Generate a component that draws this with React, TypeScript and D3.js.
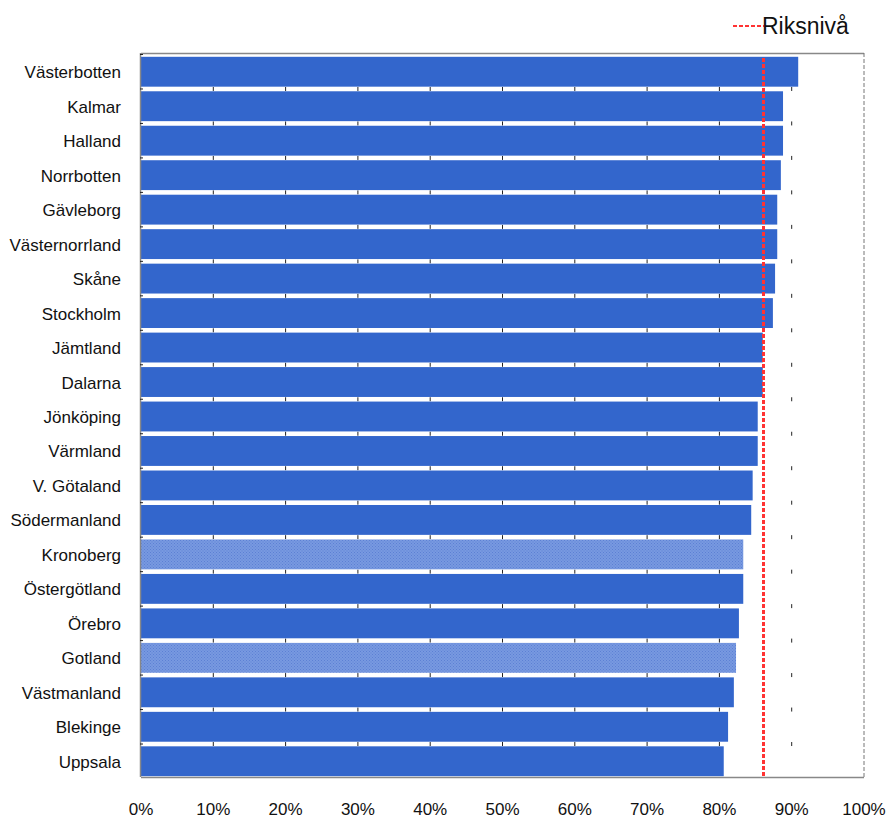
import React from "react";
import * as d3 from "d3";

const categories = [
  "Västerbotten", "Kalmar", "Halland", "Norrbotten", "Gävleborg", "Västernorrland",
  "Skåne", "Stockholm", "Jämtland", "Dalarna", "Jönköping", "Värmland",
  "V. Götaland", "Södermanland", "Kronoberg", "Östergötland", "Örebro", "Gotland",
  "Västmanland", "Blekinge", "Uppsala",
];
const values = [
  0.909, 0.888, 0.888, 0.885, 0.880, 0.880, 0.877, 0.874, 0.860, 0.860, 0.853,
  0.853, 0.846, 0.844, 0.833, 0.833, 0.827, 0.823, 0.820, 0.812, 0.806,
];
const hatched = ["Kronoberg", "Gotland"];
const riksniva = 0.861;
const xTicks = [0, 0.1, 0.2, 0.3, 0.4, 0.5, 0.6, 0.7, 0.8, 0.9, 1.0];
const legendLabel = "Riksnivå";

export default function App() {
  const W = 888, H = 818;
  const left = 141, right = 864, top = 53, bottom = 777;
  const x = d3.scaleLinear().domain([0, 1]).range([left, right]);
  const y = d3.scaleBand<string>().domain(categories).range([top, bottom]).paddingInner(0).paddingOuter(0);
  const bw = y.bandwidth();
  const fmt = d3.format(".0%");
  const font = "Arial, 'Liberation Sans', sans-serif";

  return (
    <svg width={W} height={H} style={{ position: "absolute", left: 0, top: 0, background: "#fff" }}>
      <defs>
        <pattern id="hatch" width="3" height="3" patternUnits="userSpaceOnUse">
          <rect width="3" height="3" fill="#7899e0" />
          <rect x="0" y="0" width="1" height="1" fill="#5c80d4" />
          <rect x="1.5" y="1.5" width="1" height="1" fill="#5c80d4" />
        </pattern>
      </defs>
      {/* frame */}
      <line x1={left} x2={right} y1={top + 0.5} y2={top + 0.5} stroke="#888" strokeWidth={1.5} />
      <line x1={right} x2={right} y1={top} y2={bottom} stroke="#777" strokeWidth={1} strokeDasharray="4,2" />
      {/* gridline marks in gaps */}
      {xTicks.slice(1, -1).map((t) =>
        categories.slice(1).map((c) => (
          <line key={"g" + t + c} x1={x(t)} x2={x(t)} y1={(y(c) as number) - 0.5} y2={(y(c) as number) + 3.5}
            stroke="#222" strokeWidth={1} />
        ))
      )}
      {/* bars */}
      {categories.map((c, i) => (
        <rect key={c} x={x(0)} y={(y(c) as number) + 3.8} width={x(values[i]) - x(0)} height={bw - 4.6}
          fill={hatched.includes(c) ? "url(#hatch)" : "#3366CC"} />
      ))}
      {/* left axis & bottom axis */}
      <line x1={left - 0.5} x2={left - 0.5} y1={top} y2={bottom} stroke="#888" strokeWidth={1.5} />
      <line x1={left} x2={right} y1={bottom + 0.5} y2={bottom + 0.5} stroke="#888" strokeWidth={1.5} />
      {categories.map((c) => (
        <line key={"lt" + c} x1={left - 1} x2={left + 2} y1={(y(c) as number) + 1.5} y2={(y(c) as number) + 1.5} stroke="#222" strokeWidth={1} />
      ))}
      {/* reference line */}
      <line x1={x(riksniva)} x2={x(riksniva)} y1={58} y2={bottom} stroke="#FF3333" strokeWidth={3} strokeDasharray="4,2" />
      {/* category labels */}
      {categories.map((c) => (
        <text key={"l" + c} x={121} y={(y(c) as number) + bw / 2 + 8} textAnchor="end"
          fontFamily={font} fontSize={17} fill="#111">{c}</text>
      ))}
      {/* x tick labels */}
      {xTicks.map((t) => (
        <text key={"t" + t} x={x(t)} y={815} textAnchor="middle" fontFamily={font} fontSize={17} fill="#111">{fmt(t)}</text>
      ))}
      {/* legend */}
      <line x1={733} x2={764} y1={26} y2={26} stroke="#FF3333" strokeWidth={2} strokeDasharray="4,2" />
      <text x={762} y={34} fontFamily={font} fontSize={23} fill="#111">{legendLabel}</text>
    </svg>
  );
}
